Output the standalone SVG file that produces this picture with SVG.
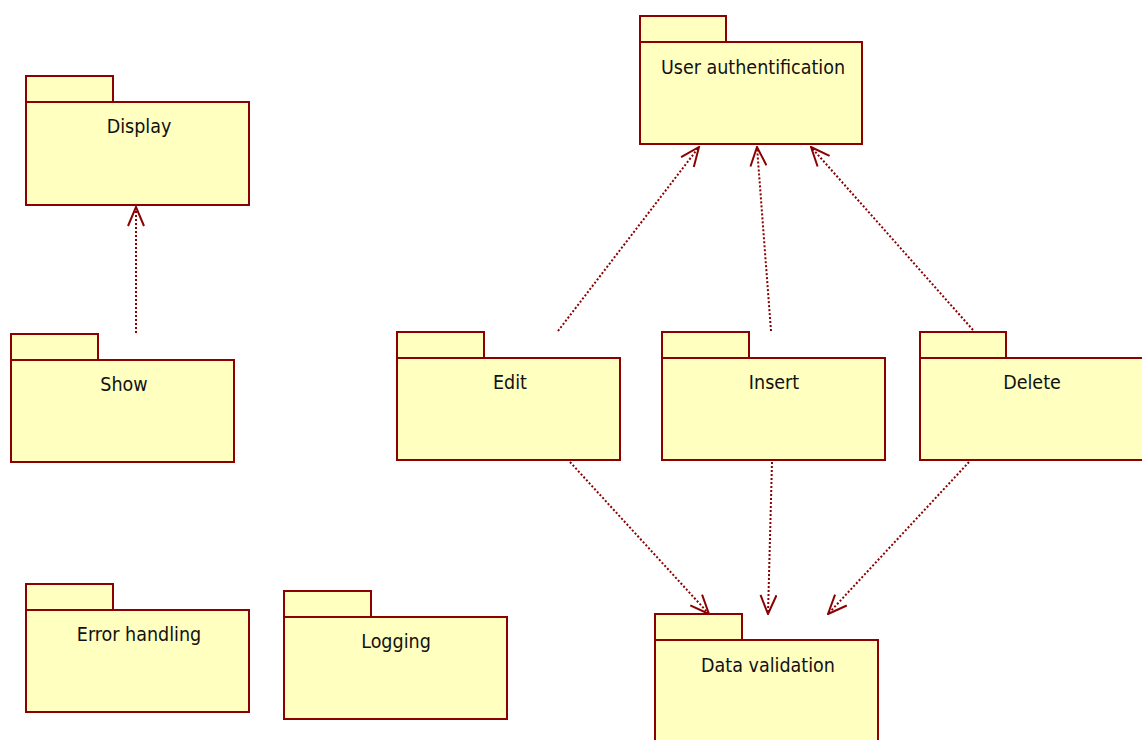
<svg xmlns="http://www.w3.org/2000/svg" width="1142" height="740" viewBox="0 0 1142 740">
  <style>
    .pkg rect { fill: #FFFFC0; stroke: #8B0000; stroke-width: 2; }
    .pkg text { font-family: "DejaVu Sans Condensed", "DejaVu Sans", Verdana, sans-serif; font-stretch: condensed; font-size: 19.5px; fill: #111; text-anchor: middle; }
    .dep { fill: none; stroke: #8B0000; stroke-width: 2; stroke-dasharray: 2 2; marker-end: url(#open); }
  </style>
  <defs>
    <!-- open arrowhead for dependency lines -->
    <marker id="open" viewBox="0 0 21 18" refX="20" refY="9" markerWidth="21" markerHeight="18" markerUnits="userSpaceOnUse" orient="auto">
      <path d="M1,1 L20,9 L1,17" fill="none" stroke="#8B0000" stroke-width="2"/>
    </marker>
  </defs>
  <rect width="1142" height="740" fill="#fff"/>

  <g id="display" class="pkg">
    <rect x="26" y="76" width="87" height="26"/>
    <rect x="26" y="102" width="223" height="103"/>
    <text x="139" y="133">Display</text>
  </g>
  <g id="show" class="pkg">
    <rect x="11" y="334" width="87" height="26"/>
    <rect x="11" y="360" width="223" height="102"/>
    <text x="124" y="391">Show</text>
  </g>
  <g id="error-handling" class="pkg">
    <rect x="26" y="584" width="87" height="26"/>
    <rect x="26" y="610" width="223" height="102"/>
    <text x="139" y="641">Error handling</text>
  </g>
  <g id="logging" class="pkg">
    <rect x="284" y="591" width="87" height="26"/>
    <rect x="284" y="617" width="223" height="102"/>
    <text x="396" y="648">Logging</text>
  </g>
  <g id="user-auth" class="pkg">
    <rect x="640" y="16" width="86" height="26"/>
    <rect x="640" y="42" width="222" height="102"/>
    <text x="753" y="74">User authentification</text>
  </g>
  <g id="edit" class="pkg">
    <rect x="397" y="332" width="87" height="26"/>
    <rect x="397" y="358" width="223" height="102"/>
    <text x="510" y="389">Edit</text>
  </g>
  <g id="insert" class="pkg">
    <rect x="662" y="332" width="87" height="26"/>
    <rect x="662" y="358" width="223" height="102"/>
    <text x="774" y="389">Insert</text>
  </g>
  <g id="delete" class="pkg">
    <rect x="920" y="332" width="86" height="26"/>
    <rect x="920" y="358" width="224" height="102"/>
    <text x="1032" y="389">Delete</text>
  </g>
  <g id="data-validation" class="pkg">
    <rect x="655" y="614" width="87" height="26"/>
    <rect x="655" y="640" width="223" height="104"/>
    <text x="768" y="672">Data validation</text>
  </g>

  <g id="connectors">
    <line class="dep" x1="136" y1="333" x2="136" y2="207"/>
    <line class="dep" x1="558" y1="331" x2="699" y2="147"/>
    <line class="dep" x1="771" y1="331" x2="757" y2="147"/>
    <line class="dep" x1="973" y1="330" x2="811" y2="147"/>
    <line class="dep" x1="570" y1="462" x2="709" y2="614"/>
    <line class="dep" x1="772" y1="462" x2="768" y2="614"/>
    <line class="dep" x1="969" y1="462" x2="828" y2="614"/>
  </g>
</svg>
